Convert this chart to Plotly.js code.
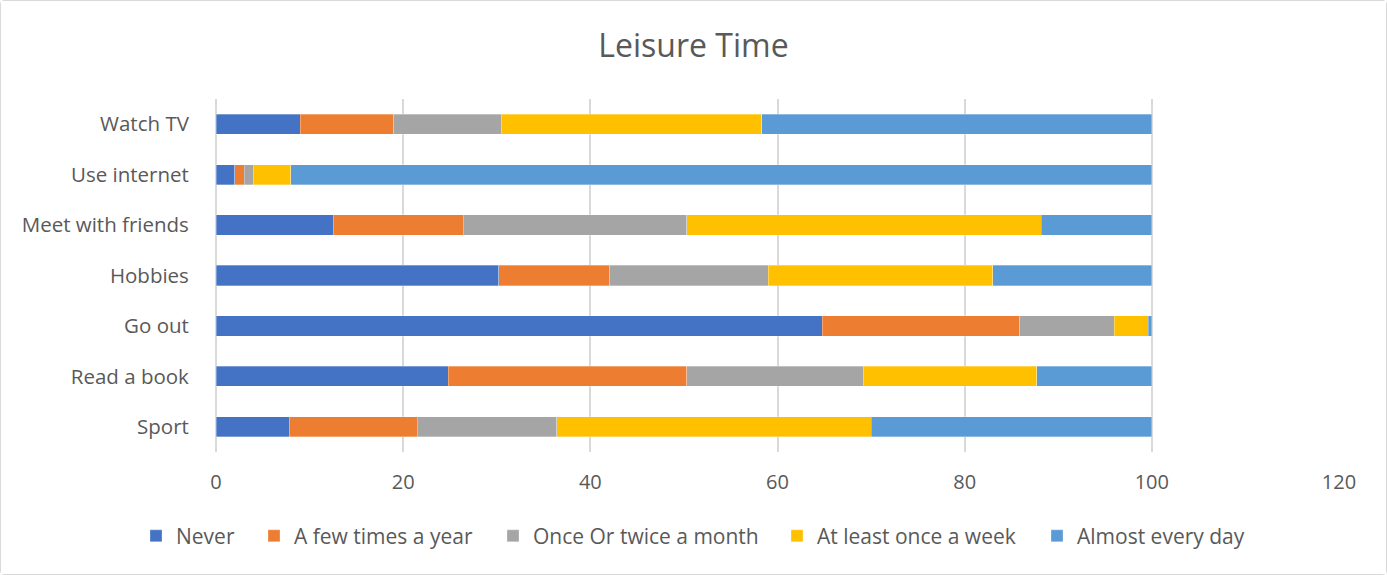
<!DOCTYPE html>
<html><head><meta charset="utf-8">
<script src="https://cdn.plot.ly/plotly-3.0.1.min.js"></script>
<style>html,body{margin:0;padding:0;background:#fff}#chart{width:1385px;height:573px;border:1px solid #d9d9d9;border-radius:4px;}</style>
</head><body><div id="chart"></div>
<script>
const categories = ["Sport","Read a book","Go out","Hobbies","Meet with friends","Use internet","Watch TV"];
const seriesNames = ["Never","A few times a year","Once Or twice a month","At least once a week","Almost every day"];
const never     = [7.9, 24.8, 64.8, 30.2, 12.6, 2.0, 9.0];
const fewYear   = [13.6, 25.5, 21.1, 11.9, 13.8, 1.0, 10.0];
const onceMonth = [14.9, 18.9, 10.1, 16.9, 23.9, 1.0, 11.5];
const weekly    = [33.6, 18.5, 3.6, 24.0, 37.9, 4.0, 27.8];
const daily     = [30.0, 12.3, 0.4, 17.0, 11.8, 92.0, 41.7];
const colors = ["#4472C4","#ED7D31","#A5A5A5","#FFC000","#5B9BD5"];
const values = [never, fewYear, onceMonth, weekly, daily];
const legendLeftPx = [135, 253, 492, 776, 1036];
const font = "Open Sans, Liberation Sans, sans-serif";
const W = 1385;
const legendIds = ['legend','legend2','legend3','legend4','legend5'];
const traces = values.map((v,i)=>({
  type:'bar', orientation:'h', name:seriesNames[i], y:categories, x:v,
  marker:{color:colors[i], line:{color:'rgba(255,255,255,0.6)', width:0.5}},
  width:0.4, hoverinfo:'x+y+name', legend:legendIds[i]
}));
const layout = {
  barmode:'stack', paper_bgcolor:'#fff', plot_bgcolor:'#fff',
  margin:{l:215, r:47, t:98, b:122, autoexpand:false},
  font:{family:font, color:'#595959', size:20},
  title:{text:'Leisure Time', x:0.5, xanchor:'center', xref:'container', y:0.922, yanchor:'middle', yref:'container',
         font:{family:font, size:32, color:'#595959'}},
  xaxis:{range:[0,120], dtick:20, tick0:0, showgrid:true, gridcolor:'#d9d9d9', gridwidth:2,
         zeroline:true, zerolinecolor:'#d9d9d9', zerolinewidth:2, showline:false, automargin:false,
         ticks:'outside', ticklen:12, tickcolor:'rgba(0,0,0,0)', tickfont:{size:20, color:'#595959'}, fixedrange:true},
  yaxis:{type:'category', categoryorder:'array', categoryarray:categories, showgrid:false, showline:false, zeroline:false, automargin:false,
         ticks:'outside', ticklen:22, tickcolor:'rgba(0,0,0,0)', tickfont:{size:20.5, color:'#595959'}, fixedrange:true},
  showlegend:true
};
legendIds.forEach((id,i)=>{
  layout[id] = {orientation:'h', x:legendLeftPx[i]/W, xanchor:'left', xref:'container', y:0.066, yanchor:'middle', yref:'container',
    font:{size:21, color:'#595959'}, itemwidth:30, bgcolor:'rgba(0,0,0,0)'};
});
Plotly.newPlot('chart', traces, layout, {displayModeBar:false, staticPlot:true});
</script></body></html>
